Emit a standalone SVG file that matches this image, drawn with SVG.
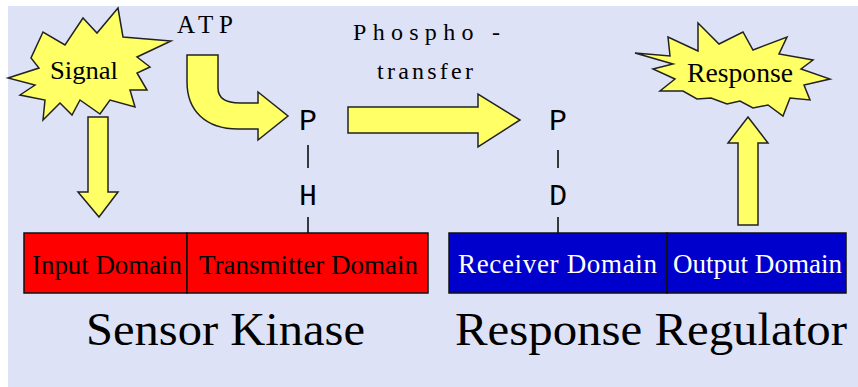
<svg xmlns="http://www.w3.org/2000/svg" width="858" height="387" viewBox="0 0 858 387">
<style>
.bg{fill:#dee2f6}
.y{fill:#ffff66;stroke:#222;stroke-width:1.5;stroke-linejoin:miter}
.box{stroke:#111;stroke-width:1.5}
.bond{stroke:#000;stroke-width:1.5;fill:none}
.t{font-family:"Liberation Serif","Times New Roman",serif;fill:#000}
.m{font-family:"Liberation Mono","Courier New",monospace;fill:#000;font-size:30px}
.w{fill:#fff}
</style>
<rect x="0" y="0" width="858" height="387" fill="#fff"/>
<rect class="bg" x="8" y="6" width="850" height="381"/>

<g id="signal">
<polygon class="y" points="8,78 39,68 31,58 43,32 65,45 83,18 97,33 118,8 123,37 171,41 137,57 150,67 137,73 147,90 130,90 135,107 110,100 100,114 80,100 72,115 60,103 43,120 45,100 20,95 35,85"/>
<text class="t" x="84" y="79" font-size="26" text-anchor="middle" textLength="68" lengthAdjust="spacingAndGlyphs">Signal</text>
</g>

<g id="atp">
<text class="t" x="177" y="33" font-size="25" textLength="56" lengthAdjust="spacing">ATP</text>
</g>

<g id="phosphotransfer-label">
<text class="t" x="353" y="40" font-size="24" textLength="147" lengthAdjust="spacing">Phospho -</text>
<text class="t" x="377" y="79" font-size="24" textLength="96" lengthAdjust="spacing">transfer</text>
</g>

<g id="response">
<polygon class="y" points="635,53 670,56 668,37 698,51 698,23 719,44 743,32 753,50 787,37 779,54 813,60 801,69 830,79 804,85 810,100 790,98 783,116 768,105 753,108 740,101 727,104 711,98 697,99 683,91 660,91 675,79 653,69 673,64"/>
<text class="t" x="740" y="82" font-size="27" text-anchor="middle" textLength="106" lengthAdjust="spacingAndGlyphs">Response</text>
</g>

<g id="connectors">
<path class="y" d="M88,117 L108,117 L108,192 L118,192 L99,217 L78,192 L88,192 Z"/>
<path class="y" d="M187,55 L218,55 L218,88 Q218,103 240,103 L258,103 L258,92 L288,116 L258,140 L258,129 L238,129 C205,129 187,110 187,82 Z"/>
<path class="y" d="M348,107 L478,107 L478,94 L520,120 L478,147 L478,133 L348,133 Z"/>
<path class="y" d="M738,225 L738,143 L728,143 L748,117 L768,143 L758,143 L758,225 Z"/>
<line class="bond" x1="308" y1="145" x2="308" y2="168"/>
<line class="bond" x1="308" y1="217" x2="308" y2="233"/>
<line class="bond" x1="558" y1="150" x2="558" y2="168"/>
<line class="bond" x1="558" y1="217" x2="558" y2="233"/>
</g>

<g id="residues" text-anchor="middle">
<text class="m" x="308" y="130">P</text>
<text class="m" x="308" y="205">H</text>
<text class="m" x="558" y="130">P</text>
<text class="m" x="558" y="205">D</text>
</g>

<g id="sensor-kinase">
<rect class="box" x="24" y="233" width="163" height="60" fill="#ff0000"/>
<rect class="box" x="187" y="233" width="241" height="60" fill="#ff0000"/>
<text class="t" x="32" y="274" font-size="27" textLength="150" lengthAdjust="spacingAndGlyphs">Input Domain</text>
<text class="t" x="199" y="274" font-size="27" textLength="219" lengthAdjust="spacingAndGlyphs">Transmitter Domain</text>
<text class="t" x="86" y="345" font-size="46" textLength="279" lengthAdjust="spacingAndGlyphs">Sensor Kinase</text>
</g>

<g id="response-regulator">
<rect class="box" x="449" y="233" width="218" height="60" fill="#0000cc"/>
<rect class="box" x="667" y="233" width="179" height="60" fill="#0000cc"/>
<text class="t w" x="458" y="273" font-size="27" textLength="199" lengthAdjust="spacing">Receiver  Domain</text>
<text class="t w" x="673" y="273" font-size="27" textLength="169" lengthAdjust="spacingAndGlyphs">Output Domain</text>
<text class="t" x="455" y="345" font-size="46" textLength="392" lengthAdjust="spacingAndGlyphs">Response Regulator</text>
</g>
</svg>
